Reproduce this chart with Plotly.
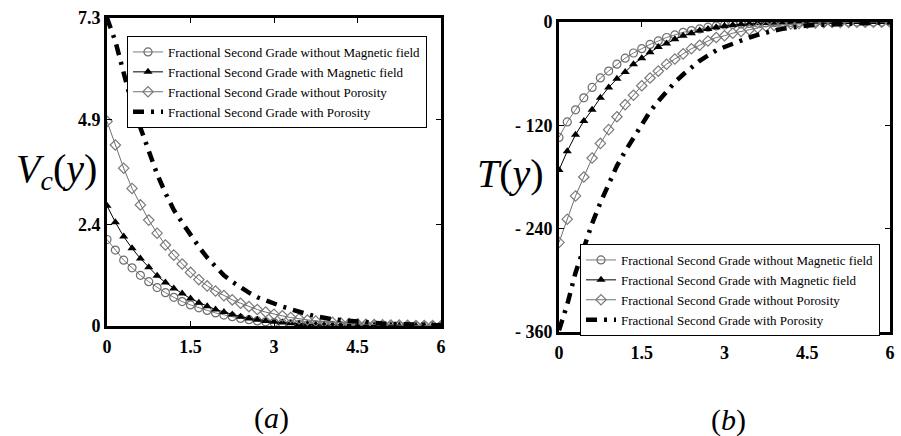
import plotly.graph_objects as go

# ---------------- data ----------------
x_vals = [round(i * 0.15, 2) for i in range(41)]

series_names = [
    "Fractional Second Grade without Magnetic field",
    "Fractional Second Grade with Magnetic field",
    "Fractional Second Grade without Porosity",
    "Fractional Second Grade with Porosity",
]

# panel (a): V_c(y)
vc_no_magnetic = [2.05, 1.80, 1.56, 1.38, 1.20, 1.05, 0.91, 0.79, 0.68, 0.58,
                  0.50, 0.43, 0.37, 0.31, 0.26, 0.22, 0.18, 0.15, 0.12, 0.10,
                  0.08, 0.065, 0.05, 0.04, 0.03, 0.025, 0.02, 0.015, 0.012, 0.01,
                  0.008, 0.006, 0.005, 0.004, 0.003, 0.002, 0.002, 0.001, 0.001, 0.001, 0.0]
vc_magnetic = [2.85, 2.46, 2.12, 1.84, 1.60, 1.39, 1.19, 1.03, 0.89, 0.77,
               0.65, 0.55, 0.47, 0.39, 0.33, 0.27, 0.22, 0.18, 0.15, 0.12,
               0.10, 0.08, 0.065, 0.05, 0.04, 0.032, 0.025, 0.02, 0.016, 0.012,
               0.01, 0.008, 0.006, 0.005, 0.004, 0.003, 0.002, 0.002, 0.001, 0.001, 0.0]
vc_no_porosity = [4.85, 4.29, 3.74, 3.26, 2.87, 2.51, 2.20, 1.92, 1.68, 1.47,
                  1.27, 1.10, 0.95, 0.83, 0.72, 0.62, 0.54, 0.46, 0.39, 0.33,
                  0.28, 0.24, 0.20, 0.17, 0.14, 0.12, 0.10, 0.085, 0.07, 0.06,
                  0.05, 0.04, 0.035, 0.03, 0.025, 0.02, 0.016, 0.013, 0.01, 0.008, 0.006]
vc_porosity = [7.30, 6.75, 6.00, 5.25, 4.70, 4.15, 3.60, 3.15, 2.75, 2.45,
               2.15, 1.88, 1.62, 1.42, 1.20, 1.05, 0.91, 0.79, 0.68, 0.60,
               0.53, 0.46, 0.40, 0.33, 0.28, 0.23, 0.19, 0.16, 0.14, 0.12,
               0.10, 0.08, 0.07, 0.06, 0.05, 0.04, 0.035, 0.03, 0.025, 0.02, 0.02]

# panel (b): T(y)
t_no_magnetic = [-134, -116, -102, -88, -76, -65, -57, -49, -42, -36,
                 -31, -26, -22, -18, -15, -12, -10, -8, -6, -4.5,
                 -3.5, -2.8, -2.2, -1.7, -1.3, -1.0, -0.8, -0.6, -0.5, -0.4,
                 -0.3, -0.25, -0.2, -0.15, -0.1, -0.08, -0.06, -0.04, -0.03, -0.02, 0]
t_magnetic = [-172, -150, -131, -115, -102, -88, -76, -66, -58, -49,
              -42, -35, -29, -25, -20, -16, -13, -10, -8, -6,
              -4.5, -3.5, -2.7, -2.0, -1.5, -1.1, -0.8, -0.6, -0.45, -0.35,
              -0.25, -0.2, -0.15, -0.1, -0.08, -0.06, -0.04, -0.03, -0.02, -0.01, 0]
t_no_porosity = [-256, -229, -202, -180, -158, -141, -125, -110, -96, -85,
                 -74, -65, -57, -49, -43, -37, -31, -27, -22, -18,
                 -16, -13, -11, -9, -7, -5, -4, -3, -2.3, -1.8,
                 -1.4, -1.1, -0.8, -0.6, -0.5, -0.4, -0.3, -0.2, -0.15, -0.1, -0.05]
t_porosity = [-358, -328, -291, -262, -234, -210, -187, -167, -150, -134,
              -118, -104, -92, -80, -70, -61, -53, -45, -39, -33,
              -29, -25, -21, -18, -15, -12, -10, -8, -6.5, -5,
              -4, -3.5, -3, -2.5, -2, -1.6, -1.3, -1.0, -0.8, -0.6, -0.5]

x_ticks = [0, 1.5, 3, 4.5, 6]
x_ticktext = ["0", "1.5", "3", "4.5", "6"]
vc_ticks = [0, 2.4, 4.9, 7.3]
vc_ticktext = ["0", "2.4", "4.9", "7.3"]
t_ticks = [-360, -240, -120, 0]
t_ticktext = ["- 360", "- 240", "- 120", "0"]

# ---------------- styling ----------------
W, H = 901, 436
SERIF = "Liberation Serif, Times New Roman, Times, serif"

def fx(px):
    return px / W

def fy(py):
    return 1 - py / H

styles = [
    dict(mode="lines+markers", line=dict(color="#7a7a7a", width=1),
         marker=dict(symbol="circle-open", size=8, color="#6e6e6e", line=dict(width=1.2))),
    dict(mode="lines+markers", line=dict(color="black", width=1),
         marker=dict(symbol="triangle-up", size=8, color="black")),
    dict(mode="lines+markers", line=dict(color="#707070", width=1),
         marker=dict(symbol="diamond-open", size=8, color="#7a7a7a", line=dict(width=1.2))),
    dict(mode="lines", line=dict(color="black", width=4.5, dash="11px,7px,3px,7px")),
]

fig = go.Figure()

left_data = [vc_no_magnetic, vc_magnetic, vc_no_porosity, vc_porosity]
right_data = [t_no_magnetic, t_magnetic, t_no_porosity, t_porosity]

for name, ys, st in zip(series_names, left_data, styles):
    fig.add_trace(go.Scatter(x=x_vals, y=ys, name=name, xaxis="x", yaxis="y",
                             legend="legend", **st))
for name, ys, st in zip(series_names, right_data, styles):
    fig.add_trace(go.Scatter(x=x_vals, y=ys, name=name, xaxis="x2", yaxis="y2",
                             legend="legend2", **st))

axis_common = dict(
    showline=True, linecolor="black", linewidth=3, mirror="allticks",
    ticks="inside", ticklen=5, tickwidth=1, tickcolor="black",
    showgrid=False, zeroline=False, automargin=False, ticklabeloverflow="allow",
    tickfont=dict(family=SERIF, size=18, color="black", weight="bold"),
)

legend_common = dict(
    bgcolor="white", bordercolor="black", borderwidth=1,
    font=dict(family=SERIF, size=13, color="black"),
    xanchor="left", yanchor="top", tracegroupgap=0, itemwidth=30,
)

fig.update_layout(
    template="none",
    width=W, height=H,
    margin=dict(l=0, r=0, t=0, b=0),
    paper_bgcolor="white", plot_bgcolor="white",
    xaxis=dict(domain=[fx(107), fx(441)], range=[0, 6], tickvals=x_ticks,
               ticktext=x_ticktext, anchor="y", ticklabelstandoff=2, **axis_common),
    yaxis=dict(domain=[fy(326), fy(18)], range=[0, 7.3], tickvals=vc_ticks,
               ticktext=vc_ticktext, anchor="x", ticklabelstandoff=0, **axis_common),
    xaxis2=dict(domain=[fx(559), fx(890)], range=[0, 6], tickvals=x_ticks,
                ticktext=x_ticktext, anchor="y2", ticklabelstandoff=2, **axis_common),
    yaxis2=dict(domain=[fy(332), fy(22)], range=[-360, 0], tickvals=t_ticks,
                ticktext=t_ticktext, anchor="x2", ticklabelstandoff=0, **axis_common),
    legend=dict(x=fx(127), y=fy(36), **legend_common),
    legend2=dict(x=fx(580), y=fy(244), **legend_common),
    showlegend=True,
)

label_font = dict(family=SERIF, size=40, color="black")
fig.add_annotation(text="<i>V</i><sub><i>c</i></sub>(<i>y</i>)", x=fx(57), y=fy(171),
                   xref="paper", yref="paper", showarrow=False, font=label_font,
                   xanchor="center", yanchor="middle")
fig.add_annotation(text="<i>T</i>(<i>y</i>)", x=fx(510), y=fy(174),
                   xref="paper", yref="paper", showarrow=False, font=label_font,
                   xanchor="center", yanchor="middle")
panel_font = dict(family=SERIF, size=30, color="black")
fig.add_annotation(text="(<i>a</i>)", x=fx(271), y=fy(418),
                   xref="paper", yref="paper", showarrow=False, font=panel_font,
                   xanchor="center", yanchor="middle")
fig.add_annotation(text="(<i>b</i>)", x=fx(728), y=fy(420),
                   xref="paper", yref="paper", showarrow=False, font=panel_font,
                   xanchor="center", yanchor="middle")

fig.write_html(
    "out.html",
    config={"displayModeBar": False},
    post_script="document.body.style.margin='0';document.body.style.overflow='hidden';",
)
